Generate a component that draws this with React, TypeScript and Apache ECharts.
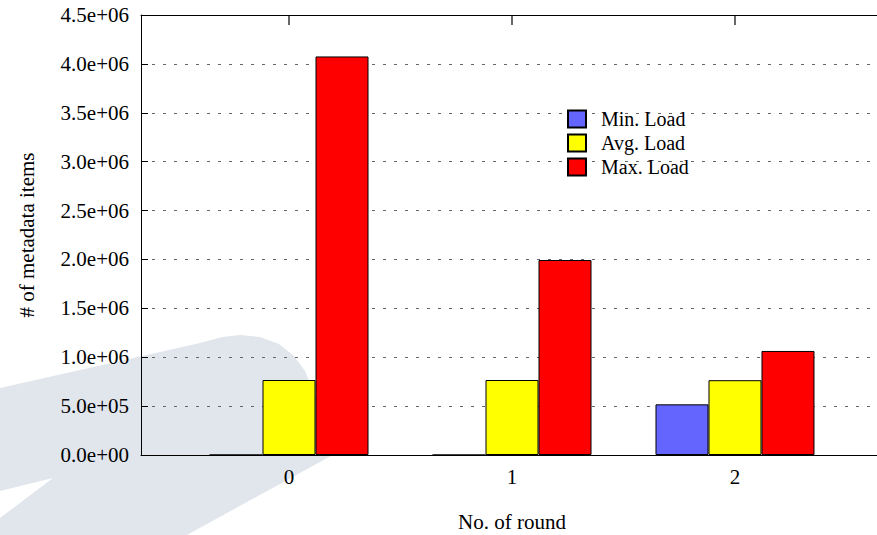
import React, { useEffect, useRef } from "react";
import * as echarts from "echarts";

const categories = ["0", "1", "2"];
const seriesNames = ["Min. Load", "Avg. Load", "Max. Load"];
const minLoad = [0, 0, 518000];
const avgLoad = [767000, 767000, 765000];
const maxLoad = [4076000, 1994000, 1064000];
const seriesColors = ["#6464ff", "#ffff00", "#ff0000"];
const yMin = 0;
const yMax = 4500000;
const yStep = 500000;

const FONT = "Liberation Serif";

function fmtExp(v: number): string {
  const s = v.toExponential(1);
  const [m, e] = s.split("e");
  const sign = e[0] === "-" ? "-" : "+";
  const digits = e.replace(/[+-]/, "").padStart(2, "0");
  return `${m}e${sign}${digits}`;
}

export default function App() {
  const ref = useRef<HTMLDivElement>(null);
  useEffect(() => {
    if (!ref.current) return;
    const chart = echarts.init(ref.current, null, { renderer: "svg" });
    const allSeries = [minLoad, avgLoad, maxLoad];
    const xTickValues = categories.map((_, i) => i);
    const option: any = {
      animation: false,
      backgroundColor: "#ffffff",
      textStyle: { fontFamily: FONT, color: "#000" },
      graphic: [
        {
          type: "polygon",
          z: -10,
          silent: true,
          shape: {
            points: [
              [0, 388],
              [200, 343],
              [222, 337],
              [240, 335],
              [260, 337],
              [279, 344],
              [294, 356],
              [305, 371],
              [314, 392],
              [334, 438],
              [338, 452],
              [187, 535],
              [0, 535],
            ],
          },
          style: { fill: "#e1e6ed" },
        },
        {
          type: "polygon",
          z: -9,
          silent: true,
          shape: {
            points: [
              [0, 491],
              [53, 478],
              [0, 518],
            ],
          },
          style: { fill: "#ffffff" },
        },
      ],
      grid: {
        left: 141,
        top: 15,
        bottom: 80,
        right: -6,
        containLabel: false,
        outerBoundsMode: "none",
      },
      legend: {
        orient: "vertical",
        left: 567,
        top: 109,
        padding: 0,
        itemWidth: 18,
        itemHeight: 17,
        itemGap: 4,
        icon: "rect",
        data: seriesNames,
        textStyle: {
          fontFamily: FONT,
          fontSize: 20,
          lineHeight: 17,
          color: "#000",
          padding: [0, 0, 0, 10],
        },
      },
      xAxis: [
        {
          type: "value",
          position: "bottom",
          min: -0.6637,
          max: 2.6637,
          name: "No. of round",
          nameLocation: "middle",
          nameGap: 56,
          nameTextStyle: { fontFamily: FONT, fontSize: 21, color: "#000" },
          axisLine: { show: true, onZero: false, lineStyle: { color: "#000", width: 1 } },
          axisTick: {
            show: true,
            inside: true,
            length: 10,
            customValues: xTickValues,
            lineStyle: { color: "#000" },
          },
          axisLabel: {
            customValues: xTickValues,
            formatter: (v: number) => categories[Math.round(v)] ?? "",
            fontFamily: FONT,
            fontSize: 21,
            color: "#000",
            margin: 11,
          },
          splitLine: { show: false },
        },
        {
          type: "value",
          position: "top",
          min: -0.6637,
          max: 2.6637,
          axisLine: { show: true, onZero: false, lineStyle: { color: "#000", width: 1 } },
          axisTick: { show: false },
          axisLabel: { show: false },
          splitLine: { show: false },
        },
      ],
      yAxis: {
        type: "value",
        min: yMin,
        max: yMax,
        interval: yStep,
        name: "# of metadata items",
        nameLocation: "middle",
        nameGap: 104,
        nameTextStyle: { fontFamily: FONT, fontSize: 21, color: "#000" },
        axisLine: { show: true, onZero: false, lineStyle: { color: "#000", width: 1 } },
        axisTick: { show: true, inside: true, length: 7, lineStyle: { color: "#000" } },
        axisLabel: {
          formatter: (v: number) => fmtExp(v),
          fontFamily: FONT,
          fontSize: 21,
          color: "#000",
          margin: 12,
        },
        splitLine: {
          show: true,
          lineStyle: { color: "#666", width: 1, type: [3, 8] },
        },
      },
      series: [
        ...seriesNames.map((name, s) => ({
          name,
          type: "bar",
          xAxisIndex: 0,
          barWidth: 53,
          barGap: "0%",
          itemStyle: {
            color: seriesColors[s],
            borderColor: "#000",
            borderWidth: 1,
          },
          data: categories.map((_, i) => [i, allSeries[s][i]]),
        })),
        {
          type: "custom",
          name: "topTicks",
          xAxisIndex: 0,
          yAxisIndex: 0,
          silent: true,
          clip: false,
          z: 10,
          encode: { x: 0, y: 1 },
          data: xTickValues.map((i) => [i, yMax]),
          renderItem: (_params: any, api: any) => {
            const p = api.coord([api.value(0), api.value(1)]);
            return {
              type: "line",
              z2: 100,
              shape: { x1: p[0], y1: p[1], x2: p[0], y2: p[1] + 10 },
              style: { stroke: "#000000", lineWidth: 1.2, fill: null },
            };
          },
        },
      ],
    };
    chart.setOption(option);
    return () => chart.dispose();
  }, []);
  return <div ref={ref} style={{ width: 877, height: 535, position: "absolute", left: 0, top: 0 }} />;
}
